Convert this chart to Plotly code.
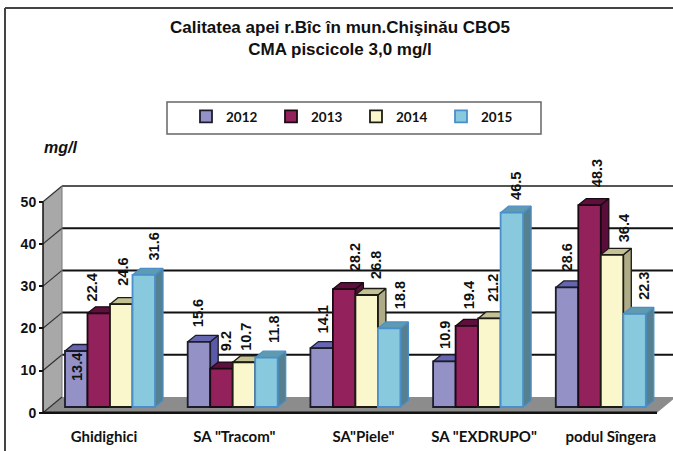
import plotly.graph_objects as go

# ---- data ----
categories = ['Ghidighici', 'SA "Tracom"', 'SA"Piele"', 'SA "EXDRUPO"', 'podul Sîngera']
years = ['2012', '2013', '2014', '2015']
v2012 = [13.4, 15.6, 14.1, 10.9, 28.6]
v2013 = [22.4, 9.2, 28.2, 19.4, 48.3]
v2014 = [24.6, 10.7, 26.8, 21.2, 36.4]
v2015 = [31.6, 11.8, 18.8, 46.5, 22.3]
series = [v2012, v2013, v2014, v2015]
y_ticks = [0, 10, 20, 30, 40, 50]

# ---- styles ----
front = ['#9491c6', '#93215c', '#fbf7cd', '#88c9dd']
edge = ['#1c1c2c', '#1a0a12', '#1c1c14', '#4a8fc9']
top_c = ['#6665b0', '#5e0f3c', '#c4c294', '#5f9ab0']
side_c = ['#5b5aa6', '#5a0d3a', '#aeac86', '#55808f']

# manual label placement in pixels (sideways shift, gap above bar top)
lab_dx = [[0.75, -7, 1.5, 10], [-1.5, 4.7, 2.2, 7.3], [1.5, 10.3, 10, 11], [0.5, 2.3, 3.8, 4], [-0.6, 6.9, 11.8, 9.3]]
lab_gap = [[-30, 11.7, 18.2, 14.2], [15.1, 17.5, 11.6, 15], [14.8, 18.4, 15.7, 19.4], [12.4, 16.9, 16.7, 12.6], [16.5, 18.4, 12.5, 13.8]]
cat_shift_px = [-6, 1.7, 8, 6, 10]

W, H = 673, 451
X0, XU = 110.0, 122.7         # pixel of first group, pixels per group
BAR_BASE, BAR_U = 407.0, 4.18  # bars: pixel of value 0, pixels per unit
AX_BASE, AX_U = 412.7, 4.22    # front axis: pixel of value 0, pixels per unit
WALL_DX, WALL_DY = 19.0, 15.7  # depth of the chart box in pixels
BAR_W_PX = 22.5
DX, DY = 8.0 / XU, 6.5 / BAR_U  # depth of a bar in data units
bw = BAR_W_PX / XU

x_range = [-X0 / XU, (W - X0) / XU]
ax_range = [(AX_BASE - H) / AX_U, AX_BASE / AX_U]
bar_range = [(BAR_BASE - H) / BAR_U, BAR_BASE / BAR_U]


def xpx(px):
    return (px - X0) / XU


AX_X = xpx(43)
BACK_X = xpx(43 + WALL_DX)
BACK_V = WALL_DY / AX_U
RIGHT_X = xpx(657)

fig = go.Figure()

# side wall and floor
fig.add_trace(go.Scatter(x=[AX_X, BACK_X, BACK_X, AX_X, AX_X], y=[0, BACK_V, 50 + BACK_V, 50, 0],
                         fill='toself', fillcolor='#a8a8a8', mode='none', showlegend=False, hoverinfo='skip'))
fig.add_trace(go.Scatter(x=[AX_X, BACK_X, RIGHT_X + WALL_DX / XU, RIGHT_X, AX_X], y=[0, BACK_V, BACK_V, 0, 0],
                         fill='toself', fillcolor='#8c8c8c', mode='none', showlegend=False, hoverinfo='skip'))

# back gridlines and the diagonal wall lines
for t in y_ticks[1:]:
    fig.add_trace(go.Scatter(x=[BACK_X, x_range[1]], y=[t + BACK_V] * 2, mode='lines',
                             line=dict(color='#111111' if t < 50 else '#555555', width=2),
                             showlegend=False, hoverinfo='skip'))
for t in y_ticks:
    fig.add_trace(go.Scatter(x=[AX_X, BACK_X], y=[t, t + BACK_V], mode='lines',
                             line=dict(color='#333333', width=1.2), showlegend=False, hoverinfo='skip'))
fig.add_trace(go.Scatter(x=[BACK_X, BACK_X], y=[BACK_V, 50 + BACK_V], mode='lines',
                         line=dict(color='#777777', width=1), showlegend=False, hoverinfo='skip'))
# axis lines
fig.add_trace(go.Scatter(x=[AX_X, AX_X], y=[0, 50], mode='lines', line=dict(color='#111111', width=1.5),
                         showlegend=False, hoverinfo='skip'))
fig.add_trace(go.Scatter(x=[AX_X, RIGHT_X], y=[0, 0], mode='lines', line=dict(color='#111111', width=2.5),
                         showlegend=False, hoverinfo='skip'))

annotations = []
for j, vals in enumerate(series):
    xs = [i + (j - 1.5) * bw for i in range(len(categories))]
    sx, sy, tx, ty = [], [], [], []
    for x, v in zip(xs, vals):
        r = x + bw / 2
        l = x - bw / 2
        sx += [r, r + DX, r + DX, r, r, None]
        sy += [0, DY, v + DY, v, 0, None]
        tx += [l, l + DX, r + DX, r, l, None]
        ty += [v, v + DY, v + DY, v, v, None]
    lw = dict(color=edge[j], width=1.3)
    fig.add_trace(go.Scatter(x=sx, y=sy, yaxis='y2', fill='toself', fillcolor=side_c[j], mode='lines', line=lw,
                             showlegend=False, hoverinfo='skip', zorder=10 + 2 * j))
    fig.add_trace(go.Scatter(x=tx, y=ty, yaxis='y2', fill='toself', fillcolor=top_c[j], mode='lines', line=lw,
                             showlegend=False, hoverinfo='skip', zorder=10 + 2 * j))
    fig.add_trace(go.Bar(x=xs, y=vals, width=bw, yaxis='y2', name=years[j], zorder=11 + 2 * j,
                         marker=dict(color=front[j], line=dict(color=edge[j], width=1.8))))
    for i, (x, v) in enumerate(zip(xs, vals)):
        annotations.append(dict(x=x, y=v, xref='x', yref='y2', text=f'<b>{v:.1f}</b>', textangle=-90, showarrow=False,
                                xanchor='center', yanchor='bottom', xshift=lab_dx[i][j], yshift=lab_gap[i][j],
                                font=dict(family='Liberation Sans', size=14.5, color='#111111'), borderpad=0, borderwidth=0))

annotations.append(dict(x=60 / W, y=1 - 147 / H, xref='paper', yref='paper', text='<b><i>mg/l</i></b>', showarrow=False,
                        xanchor='center', yanchor='middle',
                        font=dict(family='Liberation Sans', size=16, color='#111111')))

fig.update_layout(
    width=W, height=H, margin=dict(l=0, r=0, t=0, b=0, autoexpand=False),
    paper_bgcolor='white', plot_bgcolor='white', barmode='overlay', font=dict(color='#111111'),
    title=dict(text='<b>Calitatea apei r.Bîc în mun.Chişinău CBO5<br>CMA piscicole 3,0 mg/l</b>',
               x=340 / W, xanchor='center', y=1 - 33 / H, yanchor='top',
               font=dict(family='Liberation Sans', size=17, color='#111111')),
    xaxis=dict(range=x_range, domain=[0, 1], anchor='free', position=1 - 426 / H, showgrid=False, zeroline=False,
               showline=False, ticks='', tickmode='array', automargin=False,
               tickvals=[i + s / XU for i, s in enumerate(cat_shift_px)], ticktext=categories,
               tickfont=dict(family='Lato', size=15, weight='bold', color='#111111'), tickangle=0),
    yaxis=dict(range=ax_range, domain=[0, 1], anchor='free', position=43 / W, showgrid=False, zeroline=False,
               showline=False, ticks='outside', ticklen=4, tickwidth=1.5, tickcolor='#111111', tickmode='array',
               automargin=False,
               tickvals=y_ticks, tickfont=dict(family='Liberation Sans', size=14, weight='bold', color='#111111')),
    yaxis2=dict(range=bar_range, overlaying='y', visible=False, anchor='x'),
    legend=dict(orientation='h', x=186 / W, y=1 - 101 / H, xanchor='left', yanchor='top', entrywidth=40,
                entrywidthmode='pixels', bgcolor='rgba(0,0,0,0)', traceorder='normal',
                font=dict(family='Lato', size=13.5, weight='bold', color='#111111')),
    shapes=[
        dict(type='rect', xref='paper', yref='paper', x0=167 / W, x1=541 / W, y0=1 - 102 / H, y1=1 - 134 / H,
             line=dict(color='#666666', width=1.5), fillcolor='white', layer='below'),
        dict(type='line', xref='paper', yref='paper', x0=5 / W, x1=5 / W, y0=0, y1=1 - 8 / H,
             line=dict(color='#444444', width=2)),
        dict(type='line', xref='paper', yref='paper', x0=5 / W, x1=1, y0=1 - 8 / H, y1=1 - 8 / H,
             line=dict(color='#444444', width=2)),
    ],
    annotations=annotations,
    showlegend=True,
)
fig.write_html('out.html', config=dict(displayModeBar=False),
               post_script="document.body.style.margin='0';document.documentElement.style.overflow='hidden';")
